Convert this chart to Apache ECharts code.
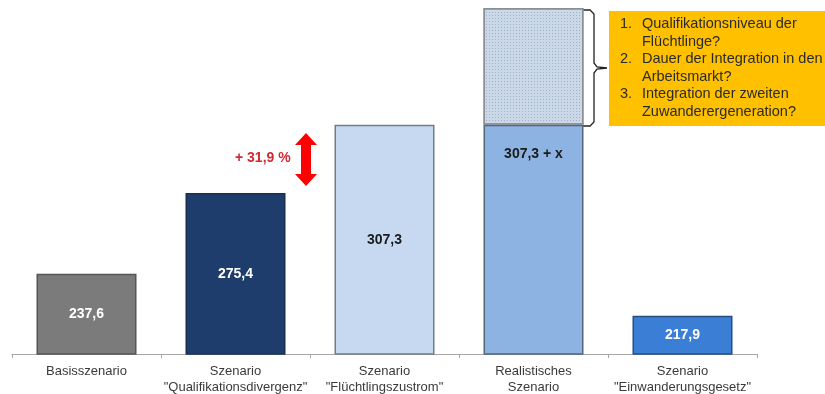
<!DOCTYPE html>
<html>
<head>
<meta charset="utf-8">
<script src="https://cdn.jsdelivr.net/npm/echarts@6/dist/echarts.min.js"></script>
<style>
  html, body { margin: 0; padding: 0; background: #fff; }
  #chart { width: 825px; height: 394px; }
</style>
</head>
<body>
<div id="chart"></div>
<script>
// Szenarien und Werte
var categories = [
	'Basisszenario',
	'Szenario\n"Qualifikationsdivergenz"',
	'Szenario\n"Flüchtlingszustrom"',
	'Realistisches\nSzenario',
	'Szenario\n"Einwanderungsgesetz"'
];
var values = [237.6, 275.4, 307.3, 307.3, 217.9];
// unbekannter Aufschlag "x" nur im realistischen Szenario
var extra = [null, null, null, 54.7, null];
var valueLabels = ['237,6', '275,4', '307,3', '307,3 + x', '217,9'];
var growthLabel = '+ 31,9 %';
var questions = [
	['Qualifikationsniveau der', 'Flüchtlinge?'],
	['Dauer der Integration in den', 'Arbeitsmarkt?'],
	['Integration der zweiten', 'Zuwanderergeneration?']
];

var barColors = ['#7b7b7b', '#1f3d6c', '#c6d9f1', '#8db3e2', '#3a7ed6'];
var borderColors = ['#555555', '#17304f', '#747c86', '#56657a', '#2b4c80'];
var labelColors = ['#ffffff', '#ffffff', '#1a1a1a', '#1a1a1a', '#ffffff'];

var FONT = '"Liberation Sans", Arial, sans-serif';

var myChart = echarts.init(document.getElementById('chart'));

// Fragenkasten (Text)
var boxTexts = [];
var lineY = 24;
questions.forEach(function (q, i) {
	boxTexts.push({
		type: 'text', x: 620, y: lineY,
		style: { text: (i + 1) + '.', font: '14.5px ' + FONT, fill: '#2b2b2b', verticalAlign: 'middle' }
	});
	q.forEach(function (line) {
		boxTexts.push({
			type: 'text', x: 642, y: lineY,
			style: { text: line, font: '14.5px ' + FONT, fill: '#2b2b2b', verticalAlign: 'middle' }
		});
		lineY += 17.6;
	});
});

var option = {
	animation: false,
	grid: { left: 12, right: 68, top: 8, bottom: 40, outerBoundsMode: 'none' },
	xAxis: {
		type: 'category',
		data: categories,
		axisLine: { lineStyle: { color: '#a6a6a6', width: 1 } },
		axisTick: { show: true, length: 4, lineStyle: { color: '#a6a6a6' } },
		axisLabel: {
			interval: 0,
			margin: 9,
			fontSize: 13,
			lineHeight: 16.5,
			color: '#3a3a3a',
			fontFamily: FONT
		}
	},
	yAxis: {
		type: 'value',
		min: 200,
		max: 362,
		show: false
	},
	series: [{
		name: 'Wert',
		type: 'bar',
		stack: 'a',
		barWidth: 100,
		data: values.map(function (v, i) {
			return {
				value: v,
				itemStyle: { color: barColors[i], borderColor: borderColors[i], borderWidth: 1.5 },
				label: {
					color: labelColors[i],
					position: i === 3 ? 'insideTop' : 'inside',
					distance: 22
				}
			};
		}),
		label: {
			show: true,
			fontSize: 14,
			fontWeight: 'bold',
			fontFamily: FONT,
			formatter: function (p) { return valueLabels[p.dataIndex]; }
		}
	}, {
		name: 'x',
		type: 'bar',
		stack: 'a',
		barWidth: 100,
		data: extra,
		itemStyle: {
			color: '#cad8e7',
			borderColor: '#8a8f96',
			borderWidth: 1.5,
			decal: {
				symbol: 'rect',
				symbolSize: 1,
				dashArrayX: [1, 2],
				dashArrayY: [1, 2],
				color: '#9fb1c5'
			}
		}
	}],
	graphic: [
		// Differenzpfeil
		{
			type: 'polygon',
			shape: { points: [[306, 133], [317, 145], [311, 145], [311, 174], [317, 174], [306, 186], [295, 174], [301, 174], [301, 145], [295, 145]] },
			style: { fill: '#ff0000' }
		},
		{
			type: 'text', x: 235, y: 158,
			style: { text: growthLabel, font: 'bold 14px ' + FONT, fill: '#cf2b35', verticalAlign: 'middle' }
		},
		// geschweifte Klammer
		{
			type: 'polyline',
			shape: { points: [[583, 10], [590, 10], [594, 14], [594, 63], [597, 67], [607, 68], [597, 69], [594, 73], [594, 122], [590, 126], [583, 126]] },
			style: { fill: null, stroke: '#222', lineWidth: 1.3 }
		},
		{
			type: 'rect',
			shape: { x: 609, y: 11, width: 216, height: 115 },
			style: { fill: '#ffc000' }
		}
	].concat(boxTexts)
};
myChart.setOption(option);
</script>
</body>
</html>
